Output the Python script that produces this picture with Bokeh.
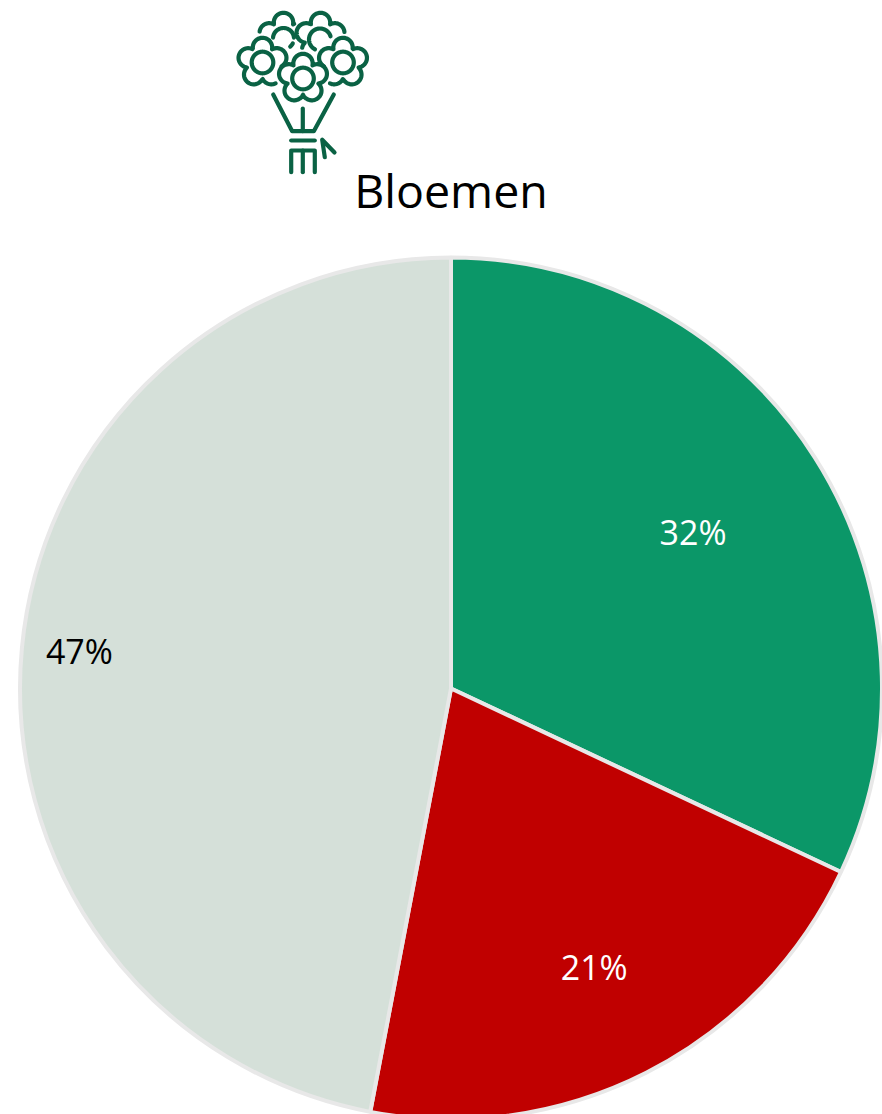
import math
from bokeh.plotting import figure
from bokeh.models import Range1d, ColumnDataSource
from bokeh.core.properties import value
from bokeh.embed import file_html
from bokeh.resources import INLINE

categories = ["groen", "rood", "grijs"]
shares = [32, 21, 47]
labels = ["32%", "21%", "47%"]
colors = ["#0B9768", "#C00000", "#D5E0D9"]
label_colors = ["#FFFFFF", "#FFFFFF", "#000000"]
label_radius = [0.665, 0.732, 0.866]
title_text = "Bloemen"

FONT = "Open Sans"
CX, CY, R = 450.5, 688.0, 431.0
ICON = "#0A6244"

def X(x): return x - CX
def Y(y): return CY - y

p = figure(width=882, height=1114, output_backend="svg", toolbar_location=None,
           x_range=Range1d(X(0), X(882)), y_range=Range1d(Y(1114), Y(0)),
           min_border=0, outline_line_color=None, background_fill_color="white",
           border_fill_color="white")
p.axis.visible = False
p.grid.visible = False

total = sum(shares)
starts, ends, lx, ly = [], [], [], []
a = math.pi / 2
for s, f in zip(shares, label_radius):
    b = a - 2 * math.pi * s / total
    starts.append(a); ends.append(b)
    m = (a + b) / 2
    lx.append(R * f * math.cos(m)); ly.append(R * f * math.sin(m) + 2.5)
    a = b

src = ColumnDataSource(dict(cat=categories, start=starts, end=ends, color=colors,
                            lx=lx, ly=ly, label=labels, lc=label_colors))
p.wedge(x=0, y=0, radius=R, start_angle="start", end_angle="end", direction="clock",
        fill_color="color", line_color="#E8E8E8", line_width=4, source=src)
p.text(x="lx", y="ly", text="label", text_color="lc", text_align="center",
       text_baseline="middle", text_font=value(FONT), text_font_size="34px", source=src)
p.text(x=[X(450.5)], y=[Y(189)], text=[title_text], text_color="#000000", text_align="center",
       text_baseline="middle", text_font=value(FONT), text_font_size="46.5px")

# bouquet icon, drawn as strokes
def scallop(cx, cy, lo, hi, d=15.0, r=9.7, n=5):
    xs, ys = [], []
    for i in range(121):
        t = math.radians(lo + (hi - lo) * i / 120)
        rho = 0
        for k in range(n):
            c = t - math.radians(90 + k * 360 / n)
            q = r * r - (d * math.sin(c)) ** 2
            if q >= 0:
                rho = max(rho, d * math.cos(c) + math.sqrt(q))
        xs.append(X(cx + rho * math.cos(t))); ys.append(Y(cy - rho * math.sin(t)))
    return xs, ys

def ring(cx, cy, r, lo, hi):
    xs, ys = [], []
    for i in range(61):
        t = math.radians(lo + (hi - lo) * i / 60)
        xs.append(X(cx + r * math.cos(t))); ys.append(Y(cy - r * math.sin(t)))
    return xs, ys

def seg(*pts):
    return [X(x) for x, _ in pts], [Y(y) for _, y in pts]

strokes = [
    scallop(302.5, 78, 0, 360),
    ring(302.5, 78, 10.8, 0, 360),
    scallop(262, 62, -11, 302),
    ring(262, 62, 10.8, 0, 360),
    scallop(342.5, 62, 180 - 302, 191),
    ring(342.5, 62, 10.8, 0, 360),
    scallop(283, 37, 52, 166),
    ring(283, 38, 10.5, 5, 175),
    ring(283, 38, 10.5, -50, -28),
    scallop(320, 37, 13, 209),
    ring(319.5, 39, 11, 17, 243),
    seg((272.7, 94), (291.7, 130.7), (313.3, 130.7), (333.3, 94)),
    seg((302.3, 108), (302.3, 130.7)),
    seg((290.7, 140), (314.3, 140)),
    seg((290.7, 171.7), (290.7, 150), (314.3, 150), (314.3, 171.7)),
    seg((302.3, 150), (302.3, 171.7)),
    seg((334, 152), (321.7, 139.3), (324.3, 156.7)),
]
p.multi_line(xs=[s[0] for s in strokes], ys=[s[1] for s in strokes], line_color=ICON,
             line_width=4.2, line_cap="round", line_join="round")

open("out.html", "w").write(file_html(p, INLINE))
